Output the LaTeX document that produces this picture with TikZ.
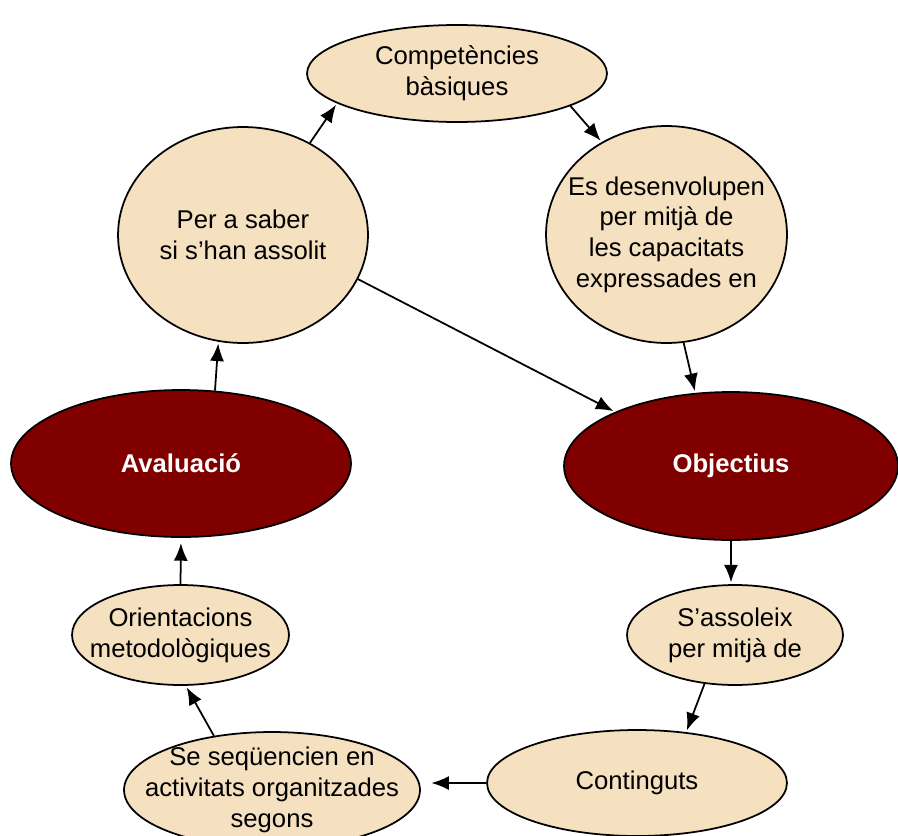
\documentclass[tikz,border=0pt]{standalone}
\usepackage{fontspec}
\setmainfont{Liberation Sans}
\usetikzlibrary{shapes.geometric,arrows.meta}
\definecolor{bubblefill}{RGB}{245,224,192}
\definecolor{keyred}{RGB}{128,0,0}
\tikzset{
    bubble/.style={ellipse, draw, line width=1pt, fill=bubblefill, inner sep=-0.8cm,
        align=center, font=\fontsize{14.6}{17.5}\selectfont},
    keybubble/.style={bubble, fill=keyred, text=white,
        font=\fontsize{14.6}{17.5}\selectfont\bfseries},
    link/.style={-{Latex[length=10pt,width=8pt]}, line width=1pt, shorten >=1pt},
}
\begin{document}
\begin{tikzpicture}[x=0.02cm, y=-0.02cm]
    \useasboundingbox (0,0) rectangle (898,835);

    % top of the cycle
    \node[bubble, minimum width=6cm, minimum height=1.94cm] (comp) at (457,73.5) {Competències\\bàsiques};
    \node[bubble, minimum width=4.82cm, minimum height=4.34cm] (desen) at (666.5,234.5) {Es desenvolupen\\per mitjà de\\les capacitats\\expressades en};
    \node[bubble, minimum width=5cm, minimum height=4.32cm] (saber) at (243,235) {Per a saber\\si s’han assolit};

    % the two key ideas
    \node[keybubble, minimum width=6.8cm, minimum height=2.94cm] (aval) at (181,463.5) {Avaluació};
    \node[keybubble, minimum width=6.68cm, minimum height=2.96cm] (obj) at (731,466) {Objectius};

    % bottom of the cycle
    \node[bubble, minimum width=4.34cm, minimum height=2cm] (ori) at (180.5,635) {Orientacions\\metodològiques};
    \node[bubble, minimum width=4.32cm, minimum height=2cm] (ass) at (735,635) {S’assoleix\\per mitjà de};
    \node[bubble, minimum width=6cm, minimum height=2.12cm] (cont) at (637,783) {Continguts};
    \node[bubble, minimum width=5.92cm, minimum height=2.32cm] (seq) at (272,790) {Se seqüencien en\\activitats organitzades\\segons};

    \draw[link] (saber.54) -- (comp.194.5);
    \draw[link] (comp.-16.8) -- (desen.125.7);
    \draw[link] (desen.-81.4) -- (obj.116.6);
    \draw[link] (saber.-21) -- (obj.155);
    \draw[link] (aval.65.7) -- (saber.257.2);
    \draw[link] (obj.south) -- (obj.south |- ass.north);
    \draw[link] (ass.238.5) -- (cont.46);
    \draw[link, shorten >=6pt] (cont.west) -- (cont.west -| seq.east);
    \draw[link] (seq.137) -- (ori.-84.5);
    \draw[link, shorten >=3pt] (ori.north) -- (aval.south);
\end{tikzpicture}
\end{document}
